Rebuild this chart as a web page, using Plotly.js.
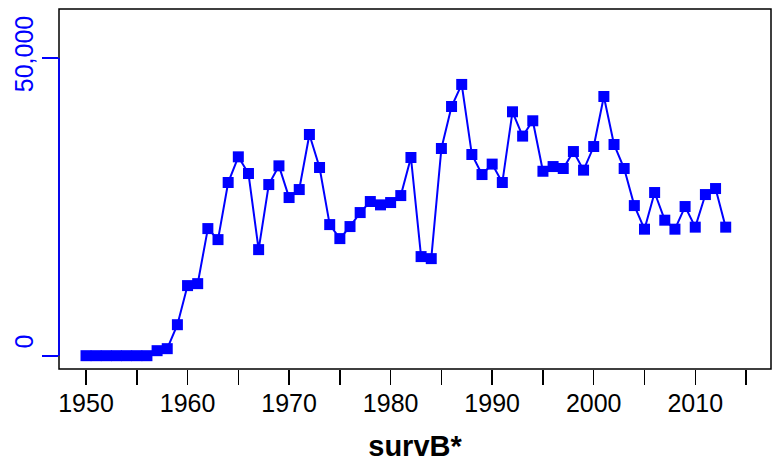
<!DOCTYPE html>
<html>
<head>
<meta charset="utf-8">
<script src="https://cdn.plot.ly/plotly-3.0.1.min.js"></script>
<style>html,body{margin:0;padding:0;background:#fff;}#chart{width:772px;height:466px;}</style>
</head>
<body>
<div id="chart"></div>
<script>
const years = [1950,1951,1952,1953,1954,1955,1956,1957,1958,1959,1960,1961,1962,1963,1964,1965,1966,1967,1968,1969,1970,1971,1972,1973,1974,1975,1976,1977,1978,1979,1980,1981,1982,1983,1984,1985,1986,1987,1988,1989,1990,1991,1992,1993,1994,1995,1996,1997,1998,1999,2000,2001,2002,2003,2004,2005,2006,2007,2008,2009,2010,2011,2012,2013];
const survB = [0,0,0,0,0,0,0,840,1180,5200,11760,12090,21330,19480,29060,33370,30570,17800,28720,31860,26540,27880,37120,31580,22000,19650,21670,24020,25870,25310,25700,26870,33260,16630,16290,34770,41820,45520,33760,30400,32150,29060,40930,36850,39420,30950,31740,31410,34260,31140,35100,43500,35440,31410,25190,21230,27380,22740,21230,25030,21570,27040,28050,21570];
const xTickVals = [1950,1955,1960,1965,1970,1975,1980,1985,1990,1995,2000,2005,2010,2015];
const xTickText = ['1950','','1960','','1970','','1980','','1990','','2000','','2010',''];
const yTickVals = [0, 50000];
const yTickText = ['\u00a0\u00a0\u00a00', '50,000'];
const xTitle = 'survB*';

const font = 'Liberation Sans, Arial, sans-serif';
const trace = {
  x: years, y: survB, type: 'scatter', mode: 'lines+markers',
  line: {color: '#0000FF', width: 2},
  marker: {symbol: 'square', size: 11, color: '#0000FF'},
  showlegend: false, hoverinfo: 'skip'
};
const layout = {
  width: 772, height: 466,
  margin: {l: 59, r: 1, t: 9, b: 97, pad: 0},
  paper_bgcolor: '#fff', plot_bgcolor: '#fff',
  font: {family: font},
  xaxis: {
    range: [1947.34, 2017.46], tickmode: 'array', tickvals: xTickVals, ticktext: xTickText,
    ticks: 'outside', ticklen: 15, tickwidth: 1.5, tickcolor: '#000', ticklabelstandoff: -3,
    showgrid: false, zeroline: false, showline: false,
    tickfont: {family: font, size: 25, color: '#000'},
    title: {text: '<b>' + xTitle + '</b>', font: {family: font, size: 29, color: '#000'}, standoff: 19}
  },
  yaxis: {
    range: [-2234, 58180], tickmode: 'array', tickvals: yTickVals, ticktext: yTickText,
    tickangle: -90, ticks: 'outside', ticklen: 16, tickwidth: 1.8, tickcolor: '#0000FF', ticklabelstandoff: -1,
    showgrid: false, zeroline: false, showline: false,
    tickfont: {family: font, size: 25, color: '#0000FF'}
  },
  shapes: [
    {type: 'rect', xref: 'paper', yref: 'paper', x0: 0, x1: 1, y0: 0, y1: 1, line: {color: '#000', width: 1.5}},
    {type: 'line', xref: 'paper', yref: 'y', x0: 0, x1: 0, y0: yTickVals[0], y1: yTickVals[1], line: {color: '#0000FF', width: 1.8}}
  ]
};
Plotly.newPlot('chart', [trace], layout, {staticPlot: true, displayModeBar: false});
</script>
</body>
</html>
